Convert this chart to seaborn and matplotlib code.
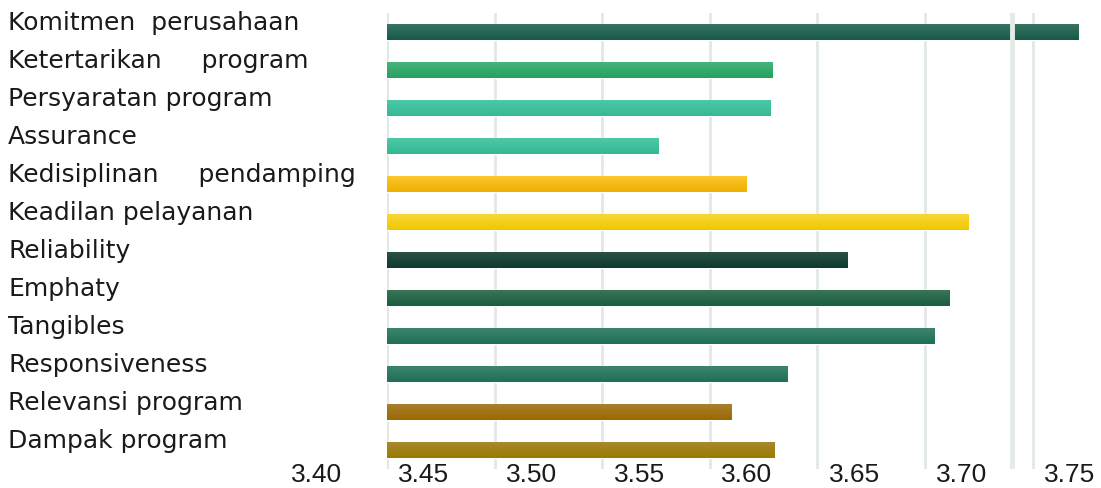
import numpy as np
import pandas as pd
import matplotlib
matplotlib.use("Agg")
import matplotlib.pyplot as plt
import seaborn as sns
from matplotlib.transforms import ScaledTranslation
from matplotlib.colors import LinearSegmentedColormap

# chart data, top to bottom
categories = ["Komitmen  perusahaan", "Ketertarikan     program", "Persyaratan program",
              "Assurance", "Kedisiplinan     pendamping", "Keadilan pelayanan",
              "Reliability", "Emphaty", "Tangibles", "Responsiveness",
              "Relevansi program", "Dampak program"]
scores = [3.754, 3.612, 3.611, 3.559, 3.600, 3.703,
          3.647, 3.694, 3.687, 3.619, 3.593, 3.613]
tick_values = [3.40, 3.45, 3.50, 3.55, 3.60, 3.65, 3.70, 3.75]

top_colors = ["#3b7566", "#48b57a", "#4dc9a8", "#50caa9", "#ffc830", "#fad63a",
              "#2e5048", "#3c7658", "#3f8570", "#3f8570", "#a88030", "#a88a30"]
bottom_colors = ["#165a48", "#26a060", "#35b995", "#33b893", "#ebb000", "#efc800",
                 "#0e3a2e", "#185e3c", "#1e7058", "#1e7058", "#9a6a00", "#9a7a00"]

df = pd.DataFrame({"kategori": categories, "skor": scores})

sns.set_style("white")
fig = plt.figure(figsize=(11.01, 4.88), dpi=100)
ax = fig.add_axes([387 / 1101, 1 - 469 / 488, 713 / 1101, 456 / 488])

sns.barplot(data=df, x="skor", y="kategori", orient="h", width=0.43,
            color=bottom_colors[0], ax=ax, zorder=2)

x_min, x_max = 3.4328, 3.7641
ax.set_xlim(x_min, x_max)
ylim = ax.get_ylim()

# vertical gradient on each bar
grad = np.linspace(0, 1, 64).reshape(-1, 1)
for patch, c_top, c_bot in zip(ax.patches, top_colors, bottom_colors):
    patch.set_facecolor(c_bot)
    x0, y0 = patch.get_x(), patch.get_y()
    w, h = patch.get_width(), patch.get_height()
    cmap = LinearSegmentedColormap.from_list("g", [c_top, c_bot])
    im = ax.imshow(grad, cmap=cmap, aspect="auto", origin="upper",
                   extent=[max(x0, x_min), x0 + w, y0 + h, y0], zorder=3)
    im.set_clip_path(patch)

ax.set_xlim(x_min, x_max)
ax.set_ylim(ylim)

# grid lines (offset from the tick labels, as in the original)
grid_pos = x_min + 0.05 * np.arange(0, 7)
for i, g in enumerate(grid_pos):
    ax.axvline(g, color="#e1e8e5", lw=3 if i == 0 else 2, zorder=1)
ax.axvline(3.7232, color="#e3ebe7", lw=3.5, zorder=4)

for s in ax.spines.values():
    s.set_visible(False)

ax.set_xlabel("")
ax.set_ylabel("")
ax.set_xticks(tick_values[1:])
ax.set_xticklabels([f"{v:.2f}" for v in tick_values[1:]])
ax.tick_params(axis="x", length=0, pad=-4.5, labelsize=19, labelcolor="#1a1a1a")
for lab in ax.get_xticklabels():
    lab.set_family("Liberation Sans")
ax.annotate(f"{tick_values[0]:.2f}", xy=(tick_values[0], 0),
            xycoords=("data", "axes fraction"), xytext=(0, 4.5),
            textcoords="offset points", ha="center", va="top",
            fontsize=19, family="Liberation Sans", color="#1a1a1a",
            annotation_clip=False)

ax.tick_params(axis="y", length=0, pad=(387 - 8) * 0.72, labelsize=18)
shift = ScaledTranslation(0, 0.12, fig.dpi_scale_trans)
for lab in ax.get_yticklabels():
    lab.set_ha("left")
    lab.set_family("DejaVu Sans")
    lab.set_color("#1a1a1a")
    lab.set_transform(lab.get_transform() + shift)

fig.savefig("out.png", dpi=100)
